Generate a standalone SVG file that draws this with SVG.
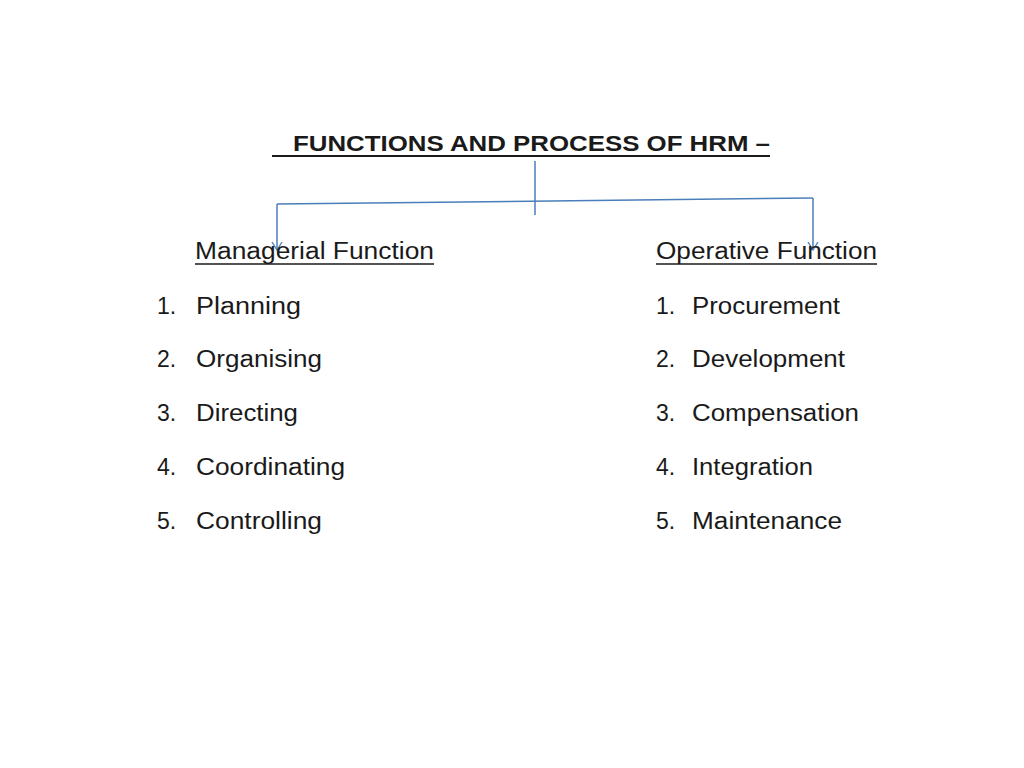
<svg xmlns="http://www.w3.org/2000/svg" width="1024" height="768" viewBox="0 0 1024 768">
<style>
text{font-family:"Liberation Sans",Arial,sans-serif;fill:#1a1a1a}
.t{font-size:22px;font-weight:bold}
.h{font-size:23px}
.i{font-size:23px}
.c{stroke:#4a7ebb;stroke-width:1.5;fill:none}
.u{stroke:#1a1a1a;stroke-width:1.6}
</style>
<defs>
<marker id="v" markerWidth="10" markerHeight="12" refX="9" refY="6" orient="auto" markerUnits="userSpaceOnUse" viewBox="0 0 10 12">
<path d="M1,1 L9,6 L1,11" fill="none" stroke="#4a7ebb" stroke-width="1.3"/>
</marker>
</defs>
<rect width="1024" height="768" fill="#fff"/>
<g id="title">
<text class="t" x="293" y="151" textLength="477" lengthAdjust="spacingAndGlyphs">FUNCTIONS AND PROCESS OF HRM –</text>
<line class="u" x1="272" y1="156" x2="770" y2="156" style="stroke-width:2"/>
</g>
<g id="connectors">
<line class="c" x1="535" y1="161" x2="535" y2="215"/>
<polyline class="c" points="277,204 813,198"/>
<line class="c" x1="277" y1="204" x2="277" y2="250" marker-end="url(#v)"/>
<line class="c" x1="813" y1="198" x2="813" y2="250" marker-end="url(#v)"/>
</g>
<g id="managerial">
<text class="h" x="195" y="259" textLength="239" lengthAdjust="spacingAndGlyphs">Managerial Function</text>
<line class="u" x1="195" y1="264" x2="434" y2="264"/>
<text class="i" x="157" y="314">1.</text><text class="i" x="196" y="314" textLength="105" lengthAdjust="spacingAndGlyphs">Planning</text>
<text class="i" x="157" y="367">2.</text><text class="i" x="196" y="367" textLength="126" lengthAdjust="spacingAndGlyphs">Organising</text>
<text class="i" x="157" y="421">3.</text><text class="i" x="196" y="421" textLength="102" lengthAdjust="spacingAndGlyphs">Directing</text>
<text class="i" x="157" y="475">4.</text><text class="i" x="196" y="475" textLength="149" lengthAdjust="spacingAndGlyphs">Coordinating</text>
<text class="i" x="157" y="529">5.</text><text class="i" x="196" y="529" textLength="126" lengthAdjust="spacingAndGlyphs">Controlling</text>
</g>
<g id="operative">
<text class="h" x="656" y="259" textLength="221" lengthAdjust="spacingAndGlyphs">Operative Function</text>
<line class="u" x1="656" y1="264" x2="877" y2="264"/>
<text class="i" x="656" y="314">1.</text><text class="i" x="692" y="314" textLength="148" lengthAdjust="spacingAndGlyphs">Procurement</text>
<text class="i" x="656" y="367">2.</text><text class="i" x="692" y="367" textLength="153" lengthAdjust="spacingAndGlyphs">Development</text>
<text class="i" x="656" y="421">3.</text><text class="i" x="692" y="421" textLength="167" lengthAdjust="spacingAndGlyphs">Compensation</text>
<text class="i" x="656" y="475">4.</text><text class="i" x="692" y="475" textLength="121" lengthAdjust="spacingAndGlyphs">Integration</text>
<text class="i" x="656" y="529">5.</text><text class="i" x="692" y="529" textLength="150" lengthAdjust="spacingAndGlyphs">Maintenance</text>
</g>
</svg>
